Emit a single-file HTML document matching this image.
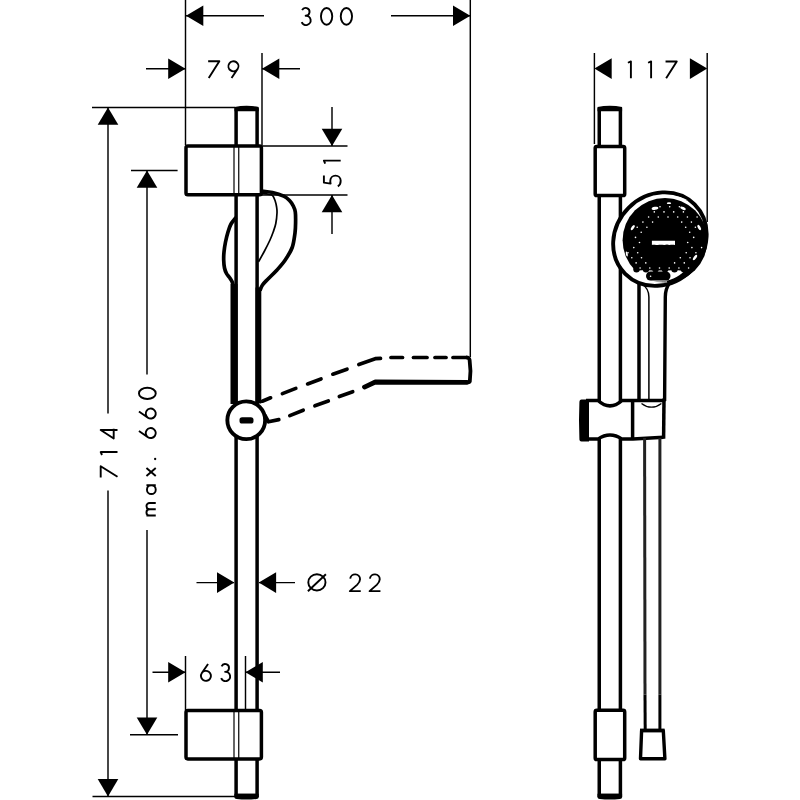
<!DOCTYPE html>
<html><head><meta charset="utf-8"><title>Shower rail set drawing</title>
<style>
html,body{margin:0;padding:0;background:#fff;}
body{width:800px;height:800px;overflow:hidden;font-family:"Liberation Sans",sans-serif;}
svg{display:block;}
</style></head><body>
<svg width="800" height="800" viewBox="0 0 800 800" stroke="#000"><line x1="185.5" y1="0" x2="185.5" y2="145" stroke-width="1.45" stroke-linecap="butt"/>
<line x1="470.3" y1="0" x2="470.3" y2="357" stroke-width="1.45" stroke-linecap="butt"/>
<line x1="186" y1="15.8" x2="264" y2="15.8" stroke-width="1.45" stroke-linecap="butt"/>
<polygon points="186,15.8 203.3,5.5 203.3,26.1" stroke="none" fill="#000"/>
<line x1="391" y1="15.8" x2="470" y2="15.8" stroke-width="1.45" stroke-linecap="butt"/>
<polygon points="470.3,15.8 453,5.5 453,26.1" stroke="none" fill="#000"/>
<path transform="translate(300.95,7.95)" d="M1.17,2.25 A3.9,3.9 0 1 1 4.7,7.8 A4.65,4.65 0 1 1 0.74,14.12" stroke-width="1.9" fill="none" stroke-linejoin="round"/>
<path transform="translate(320.95,7.95)" d="M0,8.4 A5.65,8.4 0 1 1 11.3,8.4 A5.65,8.4 0 1 1 0,8.4Z" stroke-width="1.9" fill="none" stroke-linejoin="round"/>
<path transform="translate(340.75,7.95)" d="M0,8.4 A5.65,8.4 0 1 1 11.3,8.4 A5.65,8.4 0 1 1 0,8.4Z" stroke-width="1.9" fill="none" stroke-linejoin="round"/>
<line x1="146" y1="68.7" x2="186" y2="68.7" stroke-width="1.45" stroke-linecap="butt"/>
<polygon points="185.5,68.7 168.2,58.4 168.2,79" stroke="none" fill="#000"/>
<line x1="262" y1="53" x2="262" y2="145" stroke-width="1.45" stroke-linecap="butt"/>
<line x1="262" y1="68.7" x2="300" y2="68.7" stroke-width="1.45" stroke-linecap="butt"/>
<polygon points="262,68.7 279.3,58.4 279.3,79" stroke="none" fill="#000"/>
<path transform="translate(208.15,61.25)" d="M0,0 H11.2 L0.6,16.8" stroke-width="1.9" fill="none" stroke-linejoin="round"/>
<path transform="translate(228.45,61.25)" d="M3.1,16.8 L9.15,7.79 A5,5 0 1 0 0.85,2.21 A5,5 0 1 0 9.15,7.79" stroke-width="1.9" fill="none" stroke-linejoin="round"/>
<line x1="92" y1="107.4" x2="235" y2="107.4" stroke-width="1.45" stroke-linecap="butt"/>
<line x1="92.5" y1="796.4" x2="235" y2="796.4" stroke-width="1.45" stroke-linecap="butt"/>
<line x1="108" y1="107.4" x2="108" y2="413.5" stroke-width="1.45" stroke-linecap="butt"/>
<line x1="108" y1="490.5" x2="108" y2="796.4" stroke-width="1.45" stroke-linecap="butt"/>
<polygon points="108,107.4 97.7,124.7 118.3,124.7" stroke="none" fill="#000"/>
<polygon points="108,796.4 97.7,779.1 118.3,779.1" stroke="none" fill="#000"/>
<path transform="translate(100.7,477.4) rotate(-90)" d="M0,0 H11.2 L0.6,16.8" stroke-width="1.9" fill="none" stroke-linejoin="round"/>
<path transform="translate(100.7,455) rotate(-90)" d="M0,1.3 L3,0 V16.8" stroke-width="1.9" fill="none" stroke-linejoin="round"/>
<path transform="translate(100.7,438.5) rotate(-90)" d="M8.55,16.8 V0 L0,13 H9.8" stroke-width="1.9" fill="none" stroke-linejoin="round"/>
<line x1="131" y1="170.4" x2="177.6" y2="170.4" stroke-width="1.45" stroke-linecap="butt"/>
<line x1="130" y1="734.8" x2="178" y2="734.8" stroke-width="1.45" stroke-linecap="butt"/>
<line x1="147" y1="170.4" x2="147" y2="374.6" stroke-width="1.45" stroke-linecap="butt"/>
<line x1="147" y1="530" x2="147" y2="734.8" stroke-width="1.45" stroke-linecap="butt"/>
<polygon points="147,170.4 136.7,187.7 157.3,187.7" stroke="none" fill="#000"/>
<polygon points="147,734.8 136.7,717.5 157.3,717.5" stroke="none" fill="#000"/>
<path transform="translate(138.95,515.55) rotate(-90)" d="M0,16.8 V7.5 M0,10.65 A3.15,3.15 0 0 1 6.3,10.65 V16.8 M6.3,10.65 A3.15,3.15 0 0 1 12.6,10.65 V16.8" stroke-width="1.9" fill="none" stroke-linejoin="round"/>
<path transform="translate(138.95,494.05) rotate(-90)" d="M8.8,7.5 V16.8 M0,12.4 A4.4,4.4 0 1 1 8.8,12.4 A4.4,4.4 0 1 1 0,12.4" stroke-width="1.9" fill="none" stroke-linejoin="round"/>
<path transform="translate(138.95,476.05) rotate(-90)" d="M0,7.5 L8.1,16.8 M8.1,7.5 L0,16.8" stroke-width="1.9" fill="none" stroke-linejoin="round"/>
<circle cx="155.15" cy="459" r="1.15" fill="#000" stroke="none"/>
<path transform="translate(138.95,438.05) rotate(-90)" d="M7.1,0 L0.89,8.95 A5,5 0 1 0 9.11,14.65 A5,5 0 1 0 0.89,8.95" stroke-width="1.9" fill="none" stroke-linejoin="round"/>
<path transform="translate(138.95,418.55) rotate(-90)" d="M7.1,0 L0.89,8.95 A5,5 0 1 0 9.11,14.65 A5,5 0 1 0 0.89,8.95" stroke-width="1.9" fill="none" stroke-linejoin="round"/>
<path transform="translate(138.95,399.05) rotate(-90)" d="M0,8.4 A5.65,8.4 0 1 1 11.3,8.4 A5.65,8.4 0 1 1 0,8.4Z" stroke-width="1.9" fill="none" stroke-linejoin="round"/>
<line x1="262" y1="146" x2="347.5" y2="146" stroke-width="1.45" stroke-linecap="butt"/>
<line x1="262" y1="195" x2="347.5" y2="195" stroke-width="1.45" stroke-linecap="butt"/>
<line x1="332" y1="107" x2="332" y2="146" stroke-width="1.45" stroke-linecap="butt"/>
<polygon points="332,146 321.7,128.7 342.3,128.7" stroke="none" fill="#000"/>
<line x1="332" y1="195" x2="332" y2="234" stroke-width="1.45" stroke-linecap="butt"/>
<polygon points="332,195 321.7,212.3 342.3,212.3" stroke="none" fill="#000"/>
<path transform="translate(323.9,186.8) rotate(-90)" d="M11.2,0 H4.2 L3.2,6.7 C4.1,6.45 5.1,6.4 6.0,6.4 C8.9,6.4 11.2,8.7 11.2,11.6 C11.2,14.5 8.9,16.8 6.0,16.8 C3.7,16.8 1.4,15.7 0.4,13.9" stroke-width="1.9" fill="none" stroke-linejoin="round"/>
<path transform="translate(323.9,163.6) rotate(-90)" d="M0,1.3 L3,0 V16.8" stroke-width="1.9" fill="none" stroke-linejoin="round"/>
<line x1="196.5" y1="582.6" x2="234" y2="582.6" stroke-width="1.45" stroke-linecap="butt"/>
<polygon points="234.3,582.6 217,572.3 217,592.9" stroke="none" fill="#000"/>
<line x1="259" y1="582.6" x2="295" y2="582.6" stroke-width="1.45" stroke-linecap="butt"/>
<polygon points="258.8,582.6 276.1,572.3 276.1,592.9" stroke="none" fill="#000"/>
<ellipse cx="316.9" cy="582.4" rx="8.6" ry="8.1" stroke-width="1.9" fill="none"/>
<line x1="307.9" y1="591.2" x2="325.9" y2="574.2" stroke-width="1.9" stroke-linecap="butt"/>
<path transform="translate(349.85,574.35)" d="M0.35,4.3 A4.95,4.95 0 0 1 10.2,5.0 C10.2,7.4 8.9,8.9 7.2,10.5 L0,16.8 H10.9" stroke-width="1.9" fill="none" stroke-linejoin="round"/>
<path transform="translate(369.55,574.35)" d="M0.35,4.3 A4.95,4.95 0 0 1 10.2,5.0 C10.2,7.4 8.9,8.9 7.2,10.5 L0,16.8 H10.9" stroke-width="1.9" fill="none" stroke-linejoin="round"/>
<line x1="152.5" y1="672.2" x2="186" y2="672.2" stroke-width="1.45" stroke-linecap="butt"/>
<polygon points="185.5,672.2 168.2,661.9 168.2,682.5" stroke="none" fill="#000"/>
<line x1="185.5" y1="656" x2="185.5" y2="710" stroke-width="1.45" stroke-linecap="butt"/>
<line x1="245.5" y1="656" x2="245.5" y2="710" stroke-width="1.45" stroke-linecap="butt"/>
<line x1="245.5" y1="672.2" x2="280" y2="672.2" stroke-width="1.45" stroke-linecap="butt"/>
<polygon points="245.5,672.2 262.8,661.9 262.8,682.5" stroke="none" fill="#000"/>
<path transform="translate(200.95,664.05)" d="M7.1,0 L0.89,8.95 A5,5 0 1 0 9.11,14.65 A5,5 0 1 0 0.89,8.95" stroke-width="1.9" fill="none" stroke-linejoin="round"/>
<path transform="translate(220.4,664.05)" d="M1.17,2.25 A3.9,3.9 0 1 1 4.7,7.8 A4.65,4.65 0 1 1 0.74,14.12" stroke-width="1.9" fill="none" stroke-linejoin="round"/>
<path d="M236.1,146 V109.5 Q246.6,106.2 257.1,109.5 V146" stroke-width="3.5" fill="none" />
<path d="M234.5,111.2 V107 Q246.6,104.3 258.7,107 V111.2 Z" fill="#000" stroke="none"/>
<line x1="236.1" y1="195" x2="236.1" y2="710" stroke-width="3.5" stroke-linecap="butt"/>
<line x1="257.1" y1="195" x2="257.1" y2="710" stroke-width="3.5" stroke-linecap="butt"/>
<path d="M236.1,759 V795.5 H257.1 V759" stroke-width="3.5" fill="none" />
<path d="M234.4,793.8 H258.7 V797 Q258.7,799 256.5,799 Q246.6,800.2 236.6,799 Q234.4,799 234.4,797 Z" fill="#000" stroke="none"/>
<line x1="234" y1="146" x2="234" y2="195" stroke-width="1.2" stroke-linecap="butt"/>
<line x1="238.75" y1="146" x2="238.75" y2="195" stroke-width="1.2" stroke-linecap="butt"/>
<line x1="234" y1="710.5" x2="234" y2="759" stroke-width="1.2" stroke-linecap="butt"/>
<line x1="238.75" y1="710.5" x2="238.75" y2="759" stroke-width="1.2" stroke-linecap="butt"/>
<rect x="230.5" y="284" width="7" height="120" fill="#000" stroke="none"/>
<rect x="255.5" y="287.5" width="5.8" height="116" fill="#000" stroke="none"/>
<rect x="186" y="146" width="75.4" height="48.8" rx="1.8" stroke-width="3.5" fill="none"/>
<rect x="186" y="710.5" width="75.4" height="48.4" rx="1.8" stroke-width="3.5" fill="none"/>
<path d="M261.5,191 C263.33,191.25 268.79,191.63 272.5,192.5 C276.21,193.37 280.92,194.87 283.75,196.2 C286.58,197.53 287.91,198.87 289.5,200.5 C291.09,202.13 292.33,204.08 293.3,206 C294.27,207.92 294.92,209.33 295.3,212 C295.68,214.67 295.65,218.5 295.6,222 C295.55,225.5 295.57,228.75 295,233 C294.43,237.25 293.83,243 292.2,247.5 C290.57,252 287.73,256.25 285.2,260 C282.67,263.75 279.87,266.83 277,270 C274.13,273.17 270.42,276.5 268,279 C265.58,281.5 263.83,283.08 262.5,285 C261.17,286.92 260.42,289.58 260,290.5" stroke-width="3.7" fill="none" />
<path d="M236,217.5 C235.17,218.58 232.33,221.58 231,224 C229.67,226.42 228.92,229 228,232 C227.08,235 226.17,238.67 225.5,242 C224.83,245.33 224.3,249 224,252 C223.7,255 223.62,257.33 223.7,260 C223.78,262.67 224.03,265.75 224.5,268 C224.97,270.25 225.67,271.92 226.5,273.5 C227.33,275.08 228.58,276.17 229.5,277.5 C230.42,278.83 231.33,279.92 232,281.5 C232.67,283.08 233.25,286.08 233.5,287" stroke-width="3.7" fill="none" />
<path d="M262.4,193.6 C263.33,193.7 266.32,193.9 268,194.2 C269.68,194.5 271.3,194.27 272.5,195.4 C273.7,196.53 274.52,199.07 275.2,201 C275.88,202.93 276.3,205 276.6,207 C276.9,209 277.13,210.25 277,213 C276.87,215.75 276.43,220.33 275.8,223.5 C275.17,226.67 274.17,229.25 273.2,232 C272.23,234.75 271.45,236.83 270,240 C268.55,243.17 266.42,247.37 264.5,251 C262.58,254.63 259.5,260 258.5,261.8" stroke-width="1.7" fill="none" />
<circle cx="246.25" cy="420.25" r="18.9" stroke-width="3.9" fill="#fff"/>
<rect x="239.5" y="417.2" width="14" height="6.3" rx="2.6" fill="#000" stroke="none"/>
<polyline points="262.3,401.2 270.6,397.8" stroke-width="3.7" fill="none" stroke-linecap="round" stroke-linejoin="round"/>
<polyline points="282.4,393.6 295.8,388.4" stroke-width="3.7" fill="none" stroke-linecap="round" stroke-linejoin="round"/>
<polyline points="307.6,383.9 321,379" stroke-width="3.7" fill="none" stroke-linecap="round" stroke-linejoin="round"/>
<polyline points="332.8,374.2 347,369.2" stroke-width="3.7" fill="none" stroke-linecap="round" stroke-linejoin="round"/>
<polyline points="358.8,364.5 375.25,358.7 380.5,358.3" stroke-width="3.7" fill="none" stroke-linecap="round" stroke-linejoin="round"/>
<polyline points="391,357.5 402.5,357.5" stroke-width="3.7" fill="none" stroke-linecap="round" stroke-linejoin="round"/>
<polyline points="413.5,357.5 427,357.5" stroke-width="3.7" fill="none" stroke-linecap="round" stroke-linejoin="round"/>
<polyline points="435,357.5 446,357.5" stroke-width="3.7" fill="none" stroke-linecap="round" stroke-linejoin="round"/>
<polyline points="453,357.5 466,357.5" stroke-width="3.7" fill="none" stroke-linecap="round" stroke-linejoin="round"/>
<path d="M466,357.3 C468,357.3 469.3,358 469.6,360 C470.5,366 470.8,374 469.8,381.6 C469.5,382.3 468.5,382.5 467,382.3" stroke-width="3.8" fill="none" />
<polyline points="265,415.5 268.5,421.8 278.8,419.6" stroke-width="3.7" fill="none" stroke-linecap="round" stroke-linejoin="round"/>
<polyline points="289.8,415.6 303.2,410.2" stroke-width="3.7" fill="none" stroke-linecap="round" stroke-linejoin="round"/>
<polyline points="314.9,405.8 328.3,401" stroke-width="3.7" fill="none" stroke-linecap="round" stroke-linejoin="round"/>
<polyline points="339.3,396.5 352.7,391.7" stroke-width="3.7" fill="none" stroke-linecap="round" stroke-linejoin="round"/>
<polyline points="364.5,387.1 375.3,382 467,382.3" stroke-width="4.8" fill="none" stroke-linecap="round" stroke-linejoin="round"/>
<line x1="594.4" y1="53" x2="594.4" y2="144" stroke-width="1.45" stroke-linecap="butt"/>
<line x1="707.2" y1="53" x2="707.2" y2="222" stroke-width="1.45" stroke-linecap="butt"/>
<polygon points="594.4,68.6 611.7,58.3 611.7,78.9" stroke="none" fill="#000"/>
<polygon points="707.2,68.6 689.9,58.3 689.9,78.9" stroke="none" fill="#000"/>
<path transform="translate(627.9,61.45)" d="M0,1.3 L3,0 V16.8" stroke-width="1.9" fill="none" stroke-linejoin="round"/>
<path transform="translate(648.1,61.45)" d="M0,1.3 L3,0 V16.8" stroke-width="1.9" fill="none" stroke-linejoin="round"/>
<path transform="translate(665.55,61.45)" d="M0,0 H11.2 L0.6,16.8" stroke-width="1.9" fill="none" stroke-linejoin="round"/>
<path d="M599.25,146 V109.5 Q609.8,106.2 620.4,109.5 V146" stroke-width="3.5" fill="none" />
<path d="M597.5,111.2 V107 Q609.8,104.3 622.1,107 V111.2 Z" fill="#000" stroke="none"/>
<line x1="599.25" y1="195.5" x2="599.25" y2="710.3" stroke-width="3.5" stroke-linecap="butt"/>
<line x1="620.4" y1="195.5" x2="620.4" y2="710.3" stroke-width="3.5" stroke-linecap="butt"/>
<path d="M599.25,759.6 V795.5 H620.4 V759.6" stroke-width="3.5" fill="none" />
<path d="M597.5,793.8 H622.1 V797 Q622.1,799 619.9,799 Q609.8,800.2 599.7,799 Q597.5,799 597.5,797 Z" fill="#000" stroke="none"/>
<rect x="595.2" y="146.5" width="29.5" height="49" rx="1.6" stroke-width="3.5" fill="#fff"/>
<rect x="595.2" y="710.3" width="29.5" height="49.3" rx="1.6" stroke-width="3.5" fill="#fff"/>
<path d="M669.5,283 C666,288 665.3,292 665.3,297 L664.6,401" stroke-width="3.4" fill="none"/>
<line x1="639" y1="280" x2="639" y2="401" stroke-width="3.5" stroke-linecap="butt"/>
<path d="M642,284 C646.5,287 648.9,291 648.9,297 V401" stroke-width="1.5" fill="none"/>
<ellipse cx="659.9" cy="239.1" rx="49.05" ry="44.3" transform="rotate(-45 659.9 239.1)" stroke-width="3.9" fill="#fff"/>
<circle cx="665" cy="240.3" r="42.4" fill="#000" stroke="none"/>
<path d="M633,271.5 C640,269.5 650,270.5 660,270.5 C670,270.5 678,269.5 684.5,271 C678,277.5 670,281.2 659,281.6 C648,281.6 639,277.5 633,271.5Z" fill="#fff" stroke="none"/>
<circle cx="636.5" cy="269.2" r="3.2" fill="#000" stroke="none"/>
<circle cx="646" cy="269.2" r="3.2" fill="#000" stroke="none"/>
<circle cx="655.5" cy="269.2" r="3.2" fill="#000" stroke="none"/>
<circle cx="665" cy="269.2" r="3.2" fill="#000" stroke="none"/>
<circle cx="674.5" cy="269.2" r="3.2" fill="#000" stroke="none"/>
<circle cx="684" cy="269.2" r="3.2" fill="#000" stroke="none"/>
<ellipse cx="655" cy="208.3" rx="3.4" ry="1.5" transform="rotate(-10 655 208.3)" fill="#fff" stroke="none"/>
<ellipse cx="669" cy="203.2" rx="2.2" ry="0.9" transform="rotate(0 669 203.2)" fill="#fff" stroke="none"/>
<ellipse cx="683" cy="208.3" rx="3" ry="1.4" transform="rotate(25 683 208.3)" fill="#fff" stroke="none"/>
<ellipse cx="632.8" cy="227.6" rx="1.3" ry="3" transform="rotate(35 632.8 227.6)" fill="#fff" stroke="none"/>
<ellipse cx="699.2" cy="227.5" rx="1.3" ry="3" transform="rotate(-30 699.2 227.5)" fill="#fff" stroke="none"/>
<ellipse cx="626.8" cy="254" rx="0.9" ry="2.6" transform="rotate(-10 626.8 254)" fill="#fff" stroke="none"/>
<ellipse cx="695" cy="257.5" rx="1.3" ry="3.2" transform="rotate(35 695 257.5)" fill="#fff" stroke="none"/>
<path d="M672,195.5 C678,196 684,198 688,200.5 C682,199.5 676,198.5 671,198Z" fill="#fff" stroke="none"/>
<g fill="#fff" stroke="none"><circle cx="660" cy="206.8" r="0.8"/><circle cx="669.7" cy="206.8" r="0.8"/><circle cx="679.4" cy="206.8" r="0.8"/><circle cx="654.3" cy="211.9" r="0.8"/><circle cx="664" cy="211.9" r="0.8"/><circle cx="673.7" cy="211.9" r="0.8"/><circle cx="683.4" cy="211.9" r="0.8"/><circle cx="648.6" cy="217" r="0.8"/><circle cx="658.3" cy="217" r="0.8"/><circle cx="668" cy="217" r="0.8"/><circle cx="677.7" cy="217" r="0.8"/><circle cx="687.4" cy="217" r="0.8"/><circle cx="697.1" cy="217" r="0.8"/><circle cx="642.9" cy="222.1" r="0.8"/><circle cx="652.6" cy="222.1" r="0.8"/><circle cx="681.7" cy="222.1" r="0.8"/><circle cx="691.4" cy="222.1" r="0.8"/><circle cx="637.2" cy="227.2" r="0.8"/><circle cx="646.9" cy="227.2" r="0.8"/><circle cx="685.7" cy="227.2" r="0.8"/><circle cx="695.4" cy="227.2" r="0.8"/><circle cx="641.2" cy="232.3" r="0.8"/><circle cx="689.7" cy="232.3" r="0.8"/><circle cx="635.5" cy="237.4" r="0.8"/><circle cx="693.7" cy="237.4" r="0.8"/><circle cx="639.5" cy="242.5" r="0.8"/><circle cx="687.7" cy="242.5" r="0.8"/><circle cx="633.8" cy="247.6" r="0.8"/><circle cx="691.9" cy="247.6" r="0.8"/><circle cx="701.6" cy="247.6" r="0.8"/><circle cx="628" cy="252.7" r="0.8"/><circle cx="637.7" cy="252.7" r="0.8"/><circle cx="686.2" cy="252.7" r="0.8"/><circle cx="695.9" cy="252.7" r="0.8"/><circle cx="631.8" cy="257.8" r="0.8"/><circle cx="641.5" cy="257.8" r="0.8"/><circle cx="680.3" cy="257.8" r="0.8"/><circle cx="690" cy="257.8" r="0.8"/><circle cx="636.1" cy="262.9" r="0.8"/><circle cx="645.8" cy="262.9" r="0.8"/><circle cx="674.6" cy="262.9" r="0.8"/><circle cx="684.3" cy="262.9" r="0.8"/><circle cx="630.4" cy="268" r="0.8"/><circle cx="640.1" cy="268" r="0.8"/><circle cx="649.8" cy="268" r="0.8"/><circle cx="659.5" cy="268" r="0.8"/><circle cx="669.2" cy="268" r="0.8"/><circle cx="678.9" cy="268" r="0.8"/><circle cx="688.6" cy="268" r="0.8"/></g>
<rect x="646" y="271.5" width="24.5" height="9" rx="4.5" fill="#000" stroke="none"/>
<circle cx="650.6" cy="276.3" r="0.8" fill="#fff" stroke="none"/>
<path d="M651.9,240.8 H675 V245 C672,244.2 670,245.4 667,244.6 C664,245.4 661,244.3 658,244.9 C655.5,245.3 653.5,244.6 651.9,245Z" fill="#fff" stroke="none"/>
<path d="M649,281.7 C655,282.3 661,282.3 667,281.8" stroke="#fff" stroke-width="0.9" fill="none"/>
<path d="M583,400.5 H598 Q610,411.3 622,400.5 H664.9 V437.3 H632.6 V439.1 H622 Q610,430.9 598,439.1 H583 Z" fill="#fff" stroke="none"/>
<path d="M586,400.5 H598 Q610,411.3 622,400.5 H665.3" stroke-width="3.5" fill="none" />
<path d="M586,439.1 H598 Q610,430.9 622,439.1 H633 L663.5,437.3" stroke-width="3.5" fill="none" />
<line x1="632.6" y1="400" x2="632.6" y2="439" stroke-width="3.5" stroke-linecap="butt"/>
<line x1="664" y1="398.5" x2="663.6" y2="438.8" stroke-width="3.5" stroke-linecap="butt"/>
<path d="M581.5,399.4 H589 V441.4 H581.5 Q579.2,441.4 579.4,438.5 Q578.6,420 579.4,402.3 Q579.4,399.4 581.5,399.4Z" fill="#000" stroke="none"/>
<path d="M641.5,403.4 Q651.5,411 661.4,403.4" stroke-width="1.3" fill="none" />
<g stroke="#222"><line x1="644.6" y1="438" x2="645" y2="694.5" stroke-width="3"/><line x1="659.9" y1="438" x2="659.9" y2="694.5" stroke-width="3"/></g>
<line x1="645" y1="694.5" x2="645.2" y2="730.4" stroke-width="3" stroke-linecap="butt"/>
<line x1="659.9" y1="694.5" x2="659.9" y2="730.4" stroke-width="3" stroke-linecap="butt"/>
<path d="M641.6,730.6 H663.3 L664.9,758.8 H640.5 Z" stroke-width="3.4" fill="#fff" stroke-linejoin="round"/>
<rect x="640" y="728.6" width="24.6" height="3.6" fill="#000" stroke="none"/></svg>
</body></html>
